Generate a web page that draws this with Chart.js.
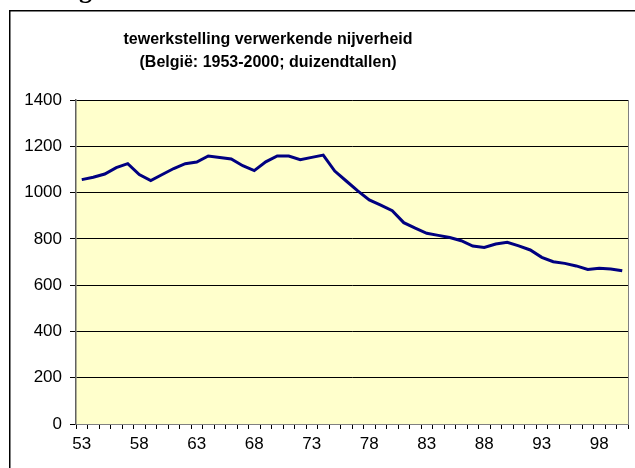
<!DOCTYPE html>
<html>
<head>
<meta charset="utf-8">
<script src="https://cdn.jsdelivr.net/npm/chart.js@4/dist/chart.umd.min.js"></script>
<style>
html,body{margin:0;padding:0;background:#fff;}
#wrap{position:relative;width:635px;height:468px;}
</style>
</head>
<body>
<div id="wrap"><canvas id="c" width="635" height="468"></canvas></div>
<script>
const years = ['53','54','55','56','57','58','59','60','61','62','63','64','65','66','67','68','69','70','71','72','73','74','75','76','77','78','79','80','81','82','83','84','85','86','87','88','89','90','91','92','93','94','95','96','97','98','99','00'];
const employment = [1056,1066,1080,1108,1125,1078,1052,1078,1104,1125,1132,1158,1152,1145,1116,1095,1133,1158,1158,1142,1152,1162,1093,1050,1007,968,946,922,870,846,824,815,806,792,769,763,778,785,770,752,720,701,694,683,668,673,670,662];
const tickLabelsShown = ['53','58','63','68','73','78','83','88','93','98'];
const titleLines = ['tewerkstelling verwerkende nijverheid','(België: 1953-2000; duizendtallen)'];

const frame = {
  id:'frame',
  beforeDraw(chart){
    const ctx = chart.ctx, a = chart.chartArea;
    ctx.save();
    ctx.fillStyle = '#ffffcc';
    ctx.fillRect(a.left, a.top, a.right - a.left, a.bottom - a.top);
    ctx.strokeStyle = '#000';
    ctx.lineWidth = 1.5;
    ctx.beginPath();
    ctx.moveTo(9.75, 468);
    ctx.lineTo(9.75, 10.75);
    ctx.lineTo(635, 10.75);
    ctx.stroke();
    ctx.fillStyle = '#000';
    ctx.font = 'bold 26px "Liberation Serif", serif';
    ctx.textBaseline = 'alphabetic';
    ctx.fillText('g', 79, -2);
    ctx.font = 'bold 16px "Liberation Sans", Arial, sans-serif';
    ctx.textAlign = 'center';
    ctx.textBaseline = 'middle';
    ctx.fillText(titleLines[0], 268, 40);
    ctx.fillText(titleLines[1], 268, 63);
    ctx.restore();
  },
  afterDraw(chart){
    const ctx = chart.ctx, a = chart.chartArea;
    ctx.save();
    ctx.strokeStyle = '#808080';
    ctx.lineWidth = 1;
    ctx.beginPath();
    ctx.moveTo(Math.round(a.right)+0.5, a.top);
    ctx.lineTo(Math.round(a.right)+0.5, a.bottom);
    ctx.stroke();
    ctx.restore();
  }
};

new Chart(document.getElementById('c'), {
  type:'line',
  data:{
    labels: years,
    datasets:[{
      data: employment,
      borderColor:'#000080',
      borderWidth:3,
      pointRadius:0,
      tension:0,
      fill:false
    }]
  },
  options:{
    responsive:false,
    animation:false,
    devicePixelRatio:1,
    layout:{padding:{top:100,right:7,left:0,bottom:0}},
    plugins:{legend:{display:false},tooltip:{enabled:false},title:{display:false}},
    scales:{
      x:{
        type:'category',
        offset:true,
        grid:{offset:true,drawOnChartArea:false,drawTicks:true,tickLength:5,color:'#000',lineWidth:1},
        border:{display:true,color:'#808080',width:1},
        ticks:{
          autoSkip:false,maxRotation:0,minRotation:0,padding:5,
          color:'#000',
          font:{family:'"Liberation Sans", Arial, sans-serif',size:17},
          callback:function(v,i){const l=this.getLabelForValue(v);return tickLabelsShown.includes(l)?l:'';}
        },
        afterFit(s){s.height = 44;}
      },
      y:{
        min:0,max:1400,
        ticks:{stepSize:200,padding:8,color:'#000',font:{family:'"Liberation Sans", Arial, sans-serif',size:17},
          callback:function(v){return String(v);}},
        grid:{color:'#000',lineWidth:1,tickLength:6,drawTicks:true},
        border:{display:true,color:'#606060',width:1.5},
        afterFit(s){s.width = 76;}
      }
    }
  },
  plugins:[frame]
});
</script>
</body>
</html>
